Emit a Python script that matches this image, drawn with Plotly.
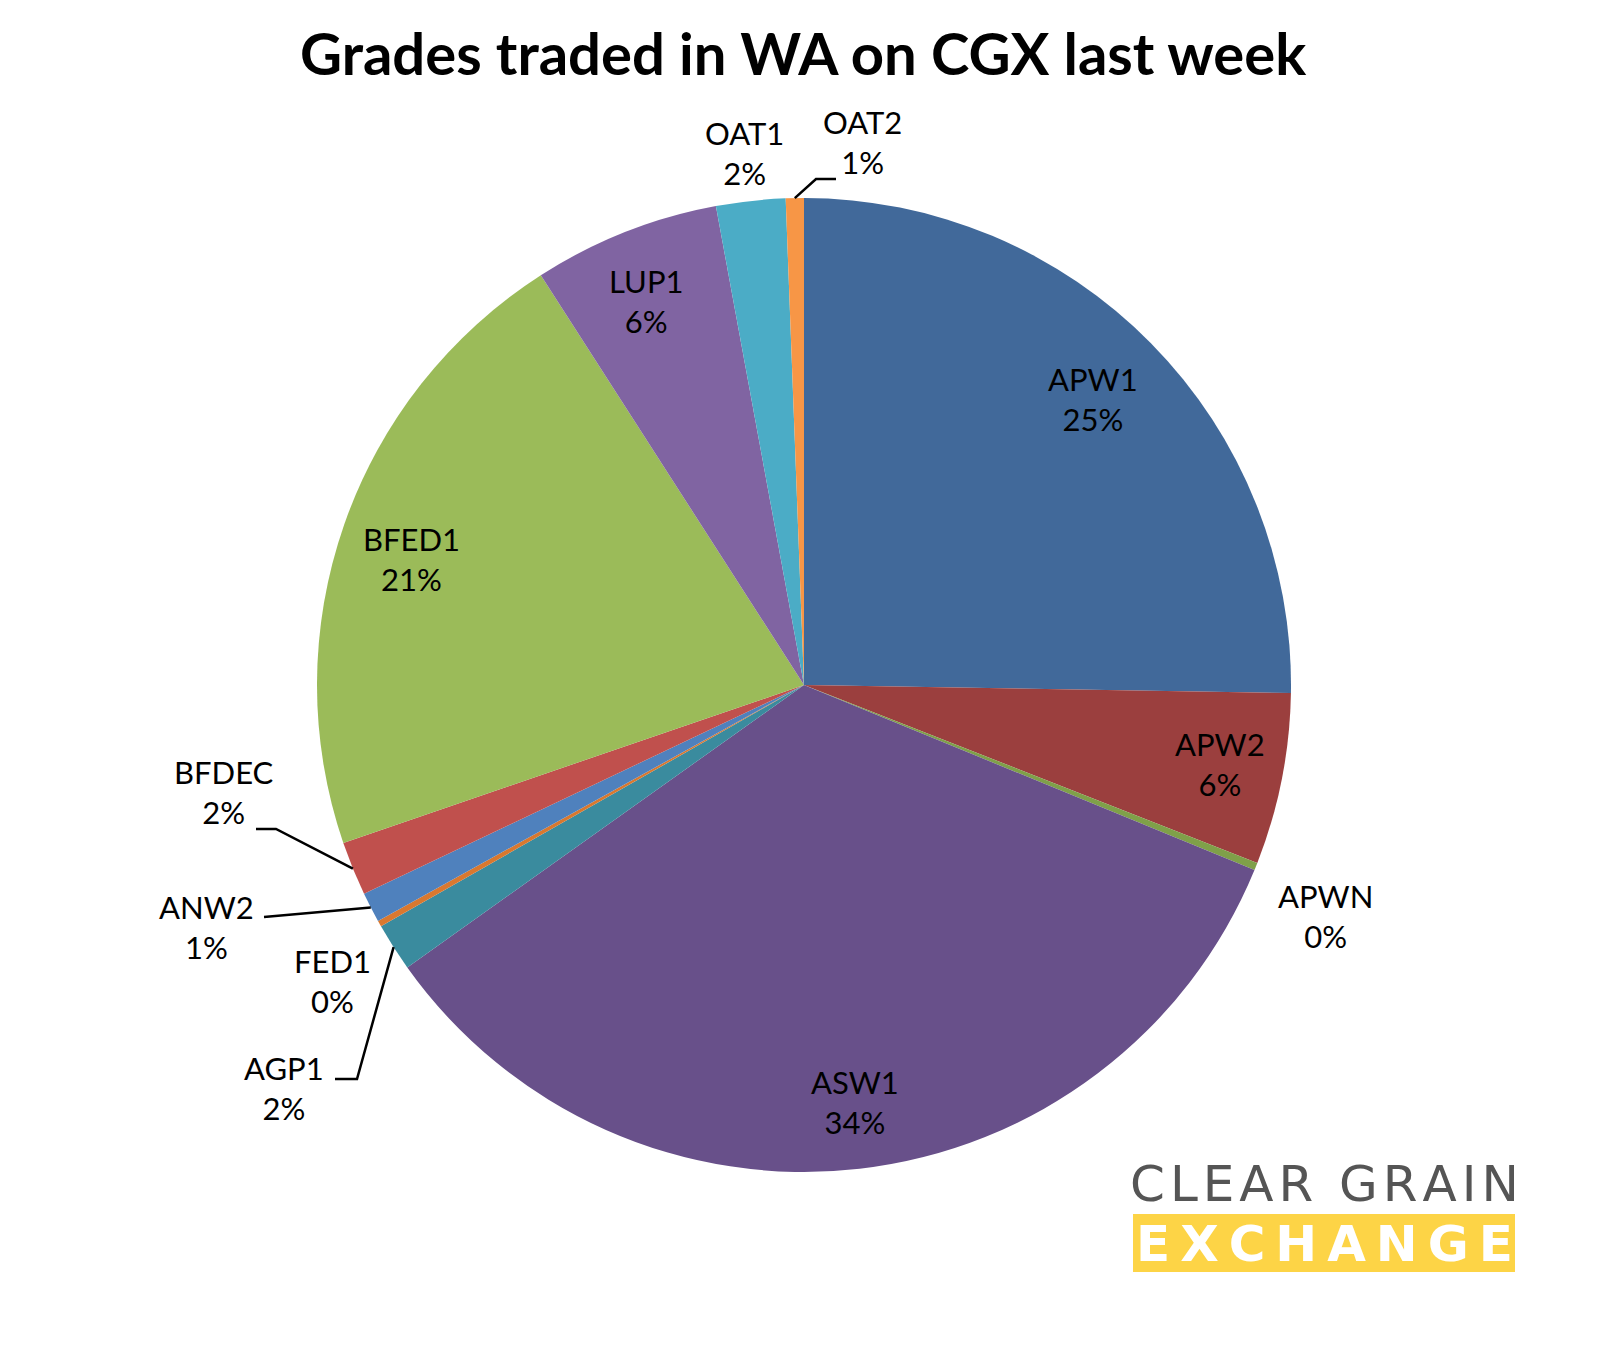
import math
import plotly.graph_objects as go

# ---- data ----
grades = ["APW1", "APW2", "APWN", "ASW1", "AGP1", "FED1", "ANW2", "BFDEC", "BFED1", "LUP1", "OAT1", "OAT2"]
shares = [25.3, 5.7, 0.25, 34.0, 1.6, 0.2, 1.0, 1.8, 21.2, 6.2, 2.3, 0.6]
colors = ["#41699A", "#9B3F3E", "#7FA049", "#68508A", "#3A8B9E", "#D9782F",
          "#4F81BD", "#C0504D", "#9BBB59", "#8064A2", "#4BACC6", "#F79646"]

# ---- layout (picture pixels) ----
W, H = 1608, 1352
OFF = 8  # page body margin
CX, CY, R = 804, 685, 487

label_pos = {
    "APW1": (1093, 399), "APW2": (1220, 764), "APWN": (1325, 916), "ASW1": (855, 1102),
    "AGP1": (284, 1088), "FED1": (332, 981), "ANW2": (206, 927), "BFDEC": (224, 792),
    "BFED1": (411, 559), "LUP1": (646, 301), "OAT1": (744, 153), "OAT2": (862, 142),
}
leaders = {
    "OAT2": [(836, 179), (816, 179)],
    "BFDEC": [(256, 829), (276, 829)],
    "ANW2": [(264, 917), (264, 917)],
    "AGP1": [(335, 1079), (357, 1079)],
}

total = sum(shares)
fig = go.Figure()
fig.add_trace(go.Pie(
    labels=grades, values=shares, sort=False, direction="clockwise", rotation=0,
    marker=dict(colors=colors, line=dict(width=0)), textinfo="none", hoverinfo="label+percent",
    domain=dict(x=[(CX - R - OFF) / W, (CX + R - OFF) / W],
                y=[1 - (CY + R - OFF) / H, 1 - (CY - R - OFF) / H]),
    showlegend=False,
))

annotations = []
pcts = [round(v / total * 100) for v in shares]
for g, p in zip(grades, pcts):
    x, y = label_pos[g]
    annotations.append(dict(x=x, y=y, xref="x", yref="y", text=f"{g}<br>{p}%", showarrow=False,
                            font=dict(family="Lato", size=31, color="#000000"), align="center"))

shapes = []
cum = 0
mids = {}
for g, v in zip(grades, shares):
    mids[g] = (cum + v / 2) / total * 2 * math.pi
    cum += v
for g, (end, elbow) in leaders.items():
    a = mids[g]
    ex, ey = CX + R * math.sin(a), CY - R * math.cos(a)
    shapes.append(dict(type="path", xref="x", yref="y",
                       path=f"M {end[0]} {end[1]} L {elbow[0]} {elbow[1]} L {ex:.1f} {ey:.1f}",
                       line=dict(color="#000000", width=2.5)))

# logo
shapes.append(dict(type="rect", xref="x", yref="y", x0=1133, x1=1515, y0=1214, y1=1272,
                   fillcolor="#FDD446", line=dict(width=0), layer="below"))
annotations.append(dict(x=1324, y=1184, xref="x", yref="y",
                        text="\u200a".join("CLEAR GRAIN"), showarrow=False,
                        font=dict(family="DejaVu Sans", size=50, color="#555555")))
annotations.append(dict(x=1324, y=1244, xref="x", yref="y",
                        text="<b>" + "\u2009".join("EXCHANGE") + "</b>",
                        showarrow=False,
                        font=dict(family="DejaVu Sans", size=50, color="#FFFFFF")))

# title
annotations.append(dict(x=803, y=52, xref="x", yref="y", text="<b>Grades traded in WA on CGX last week</b>",
                        showarrow=False, font=dict(family="Lato", size=58, color="#000000")))

fig.update_layout(
    width=W, height=H, margin=dict(l=0, r=0, t=0, b=0),
    paper_bgcolor="#FFFFFF", plot_bgcolor="rgba(0,0,0,0)",
    xaxis=dict(range=[OFF, W + OFF], visible=False, domain=[0, 1], fixedrange=True),
    yaxis=dict(range=[H + OFF, OFF], visible=False, domain=[0, 1], fixedrange=True),
    annotations=annotations, shapes=shapes,
)
fig.write_html("out.html")
